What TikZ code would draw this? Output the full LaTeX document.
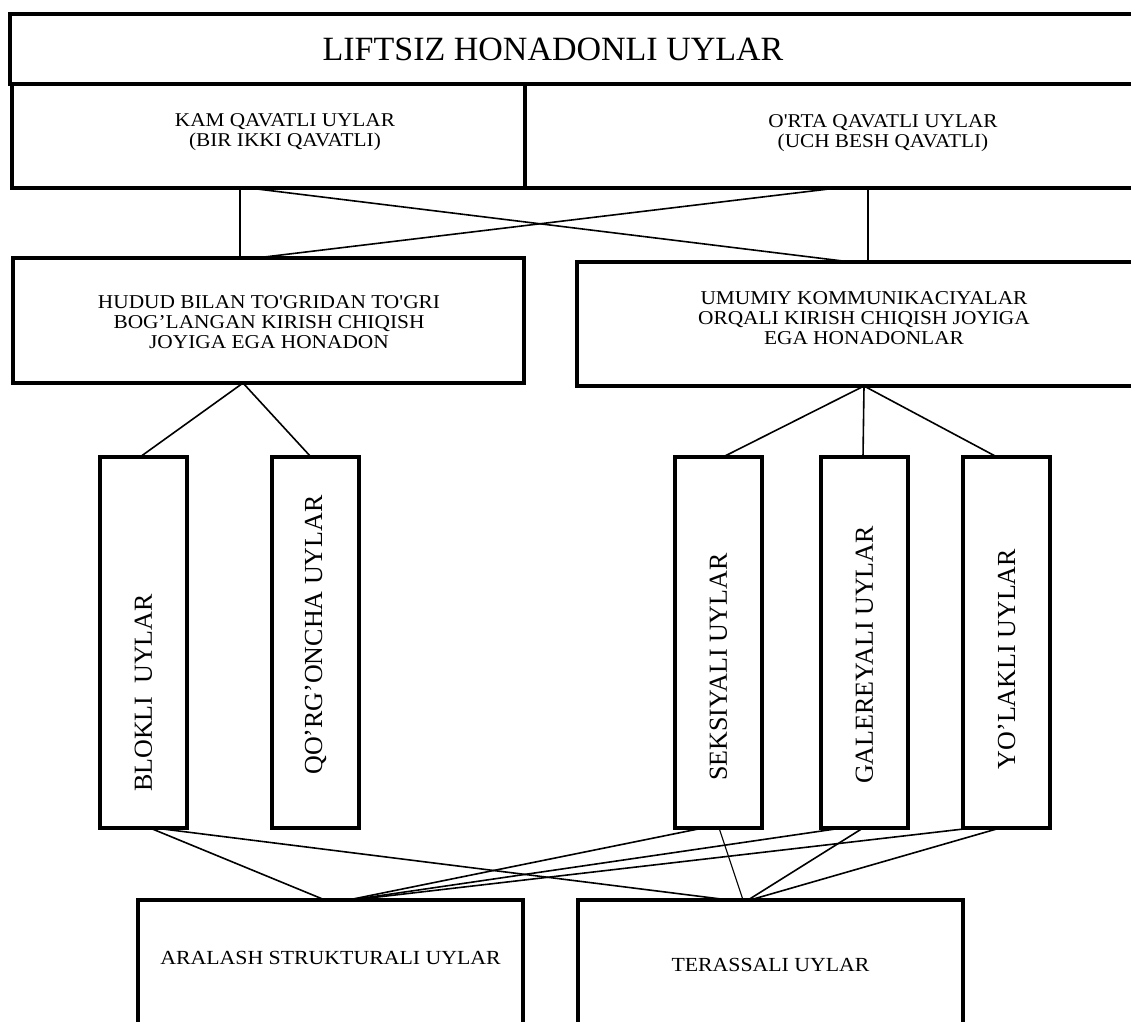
\documentclass[tikz,border=0pt]{standalone}
\usepackage{fontspec}
\setmainfont{Liberation Serif}
\newfontfamily\widefont[FakeStretch=1.09]{Liberation Serif}
\newfontfamily\widerfont[FakeStretch=1.09]{Liberation Serif}
\begin{document}
\begin{tikzpicture}[x=1pt,y=-1pt,
  box/.style={draw=black, line width=3.5pt, inner sep=0pt, outer sep=0pt, rectangle},
  vbox/.style={box, minimum width=87pt, minimum height=371pt},
  bbox/.style={box, minimum width=385pt, minimum height=140pt},
  lbl/.style={align=center, inner sep=0pt, font=\widefont\fontsize{19.5}{20}\selectfont},
  lbl3/.style={align=center, inner sep=0pt, font=\widerfont\fontsize{19.6}{20}\selectfont},
  vlbl/.style={inner sep=0pt, rotate=90, font=\fontsize{26}{26}\selectfont},
  conn/.style={line width=1.6pt, black},
  thin/.style={line width=1.1pt, black}]
\useasboundingbox (0,0) rectangle (1131,1021);
\clip (0,0) rectangle (1131,1021);
\fill[white] (0,0) rectangle (1131,1021);

% boxes
\node[box, minimum width=1135pt, minimum height=70pt] (title) at (577.5,49) {};
\node[box, minimum width=513pt, minimum height=104pt] (kam) at (268.5,136) {};
\node[box, minimum width=620pt, minimum height=104pt] (orta) at (835,136) {};
\node[box, minimum width=511pt, minimum height=125pt] (hudud) at (268.5,320.5) {};
\node[box, minimum width=568pt, minimum height=124pt] (umumiy) at (861,324) {};
\node[vbox] (blokli) at (143.5,642.5) {};
\node[vbox] (qorg) at (315.5,642.5) {};
\node[vbox] (seks) at (718.5,642.5) {};
\node[vbox] (gal) at (864.5,642.5) {};
\node[vbox] (yol) at (1006.5,642.5) {};
\node[bbox] (aralash) at (330.5,970) {};
\node[bbox] (terassali) at (770.5,970) {};

% texts
\node[inner sep=0pt, font=\fontsize{34}{34}\selectfont] (titletext) at (553,49) {LIFTSIZ HONADONLI UYLAR};
\node[lbl] (kamtext) at (285,132) {KAM QAVATLI UYLAR\\(BIR IKKI QAVATLI)};
\node[lbl] (ortatext) at (883,133) {O'RTA QAVATLI UYLAR\\(UCH BESH QAVATLI)};
\node[lbl3] (hududtext) at (269,322) {HUDUD BILAN TO'GRIDAN TO'GRI\\BOG’LANGAN KIRISH CHIQISH\\JOYIGA EGA HONADON};
\node[lbl3] (umumiytext) at (864,318) {UMUMIY KOMMUNIKACIYALAR\\ORQALI KIRISH CHIQISH JOYIGA\\EGA HONADONLAR};
\node[vlbl] (bloklitext) at (143.5,693) {BLOKLI\hspace{0.5em}UYLAR};
\node[vlbl] (qorgtext) at (315.5,635) {QO'RG'ONCHA UYLAR};
\node[vlbl] (sekstext) at (718.5,667) {SEKSIYALI UYLAR};
\node[vlbl] (galtext) at (864.5,655) {GALEREYALI UYLAR};
\node[vlbl] (yoltext) at (1006.5,659) {YO'LAKLI UYLAR};
\node[lbl3, font=\widerfont\fontsize{20}{20}\selectfont] (aralashtext) at (330.5,958) {ARALASH STRUKTURALI UYLAR};
\node[lbl3, font=\widerfont\fontsize{20}{20}\selectfont] (terassalitext) at (770.5,965) {TERASSALI UYLAR};

% cross connectors
\draw[thin] ([xshift=228pt]kam.south west) -- ([xshift=227pt]hudud.north west);
\draw[thin] ([xshift=343pt]orta.south west) -- ([xshift=291pt]umumiy.north west);
\draw[conn] ([xshift=237pt]kam.south west) -- ([xshift=274pt]umumiy.north west);
\draw[conn] ([xshift=312pt]orta.south west) -- ([xshift=243pt]hudud.north west);

% tree connectors
\draw[conn] ([xshift=40pt]blokli.north west) -- ([xshift=230pt]hudud.south west) -- ([xshift=39pt]qorg.north west);
\draw[conn] ([xshift=48pt]seks.north west) -- ([xshift=287pt]umumiy.south west) -- ([xshift=34pt]yol.north west);
\draw[conn] ([xshift=287pt]umumiy.south west) -- ([xshift=42pt]gal.north west);

% bottom connectors
\draw[conn] ([xshift=50pt]blokli.south west) -- ([xshift=187pt]aralash.north west);
\draw[conn] ([xshift=55pt]blokli.south west) -- ([xshift=151pt]terassali.north west);
\draw[conn] ([xshift=28pt]seks.south west) -- ([xshift=210pt]aralash.north west);
\draw[thin] ([xshift=44pt]seks.south west) -- ([xshift=165pt]terassali.north west);
\draw[conn] ([xshift=21pt]gal.south west) -- ([xshift=212pt]aralash.north west);
\draw[conn] ([xshift=42pt]gal.south west) -- ([xshift=170pt]terassali.north west);
\draw[conn] ([xshift=9pt]yol.south west) -- ([xshift=214pt]aralash.north west);
\draw[conn] ([xshift=37pt]yol.south west) -- ([xshift=172pt]terassali.north west);
\end{tikzpicture}
\end{document}
